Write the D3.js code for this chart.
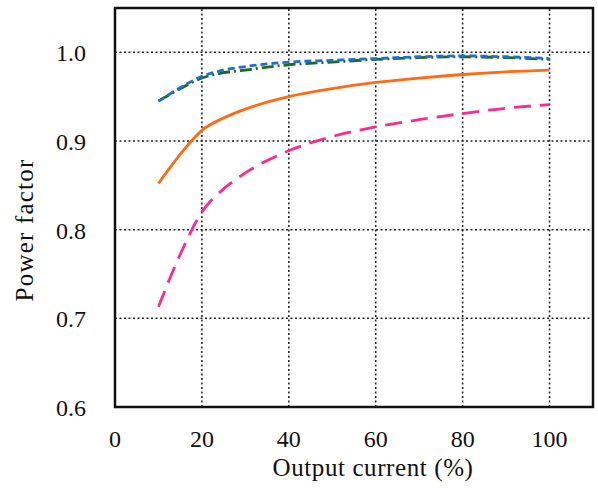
<!DOCTYPE html>
<html>
<head>
<meta charset="utf-8">
<script src="https://cdn.jsdelivr.net/npm/d3@7"></script>
<style>
  body { margin: 0; background: #fff; }
  svg text { font-family: "Liberation Serif", "DejaVu Serif", serif; fill: #111; }
</style>
</head>
<body>
<div id="chart"></div>
<script>
// Output current (%) sampled along each curve
const currentPct = [10, 15, 20, 25, 30, 40, 50, 60, 70, 80, 90, 100];

// Power factor
const pfBlue   = [0.945, 0.960, 0.973, 0.980, 0.984, 0.989, 0.991, 0.993, 0.995, 0.996, 0.995, 0.993];
const pfGreen  = [0.945, 0.959, 0.971, 0.977, 0.980, 0.986, 0.989, 0.992, 0.994, 0.995, 0.994, 0.992];
const pfOrange = [0.852, 0.885, 0.912, 0.926, 0.936, 0.950, 0.959, 0.966, 0.971, 0.975, 0.978, 0.980];
const pfPink   = [0.713, 0.772, 0.820, 0.846, 0.864, 0.889, 0.905, 0.916, 0.924, 0.931, 0.937, 0.941];

const xTicks = [0, 20, 40, 60, 80, 100];
const yTicks = [0.6, 0.7, 0.8, 0.9, 1.0];

const series = [
  { values: pfOrange, color: "#ff6a13", dash: null },
  { values: pfPink,   color: "#ff2a8c", dash: "17,9" },
  { values: pfGreen,  color: "#1d6b23", dash: "12,4,2,4" },
  { values: pfBlue,   color: "#1f6fd0", dash: "7,4" }
];

const width = 598, height = 493;
const margin = {top: 8, right: 5, bottom: 86, left: 115};

const svg = d3.select("#chart").append("svg")
  .attr("width", width)
  .attr("height", height);

const x = d3.scaleLinear().domain([0, 110]).range([margin.left, width - margin.right]);
const y = d3.scaleLinear().domain([0.6, 1.05]).range([height - margin.bottom, margin.top]);

// dotted grid
svg.append("g")
  .selectAll("line")
  .data(xTicks.filter(d => d > 0))
  .join("line")
    .attr("x1", d => x(d)).attr("x2", d => x(d))
    .attr("y1", y.range()[0]).attr("y2", y.range()[1])
    .attr("stroke", "#222")
    .attr("stroke-width", 1.5)
    .attr("stroke-dasharray", "2,2.5");

svg.append("g")
  .selectAll("line")
  .data(yTicks.filter(d => d > 0.6))
  .join("line")
    .attr("x1", x.range()[0]).attr("x2", x.range()[1])
    .attr("y1", d => y(d)).attr("y2", d => y(d))
    .attr("stroke", "#222")
    .attr("stroke-width", 1.5)
    .attr("stroke-dasharray", "2,2.5");

// curves
const line = d3.line()
  .x((d, i) => x(currentPct[i]))
  .y(d => y(d))
  .curve(d3.curveMonotoneX);

svg.append("g")
  .selectAll("path")
  .data(series)
  .join("path")
    .attr("d", d => line(d.values))
    .attr("fill", "none")
    .attr("stroke", d => d.color)
    .attr("stroke-width", 2.8)
    .attr("stroke-dasharray", d => d.dash);

// frame
svg.append("rect")
  .attr("x", x.range()[0])
  .attr("y", y.range()[1])
  .attr("width", x.range()[1] - x.range()[0])
  .attr("height", y.range()[0] - y.range()[1])
  .attr("fill", "none")
  .attr("stroke", "#111")
  .attr("stroke-width", 2.5);

// tick labels
svg.append("g")
  .selectAll("text")
  .data(xTicks)
  .join("text")
    .attr("x", d => x(d))
    .attr("y", 447)
    .attr("text-anchor", "middle")
    .style("font-size", "24px")
    .text(d => d);

svg.append("g")
  .selectAll("text")
  .data(yTicks)
  .join("text")
    .attr("x", 86)
    .attr("y", d => y(d) + 9)
    .attr("text-anchor", "end")
    .style("font-size", "24px")
    .text(d => d.toFixed(1));

// axis titles
svg.append("text")
  .attr("x", 373)
  .attr("y", 476)
  .attr("text-anchor", "middle")
  .style("font-size", "25px")
  .style("letter-spacing", "0.6px")
  .text("Output current (%)");

svg.append("text")
  .attr("transform", "translate(33,230) rotate(-90)")
  .attr("text-anchor", "middle")
  .style("font-size", "25px")
  .style("letter-spacing", "1.2px")
  .text("Power factor");
</script>
</body>
</html>
